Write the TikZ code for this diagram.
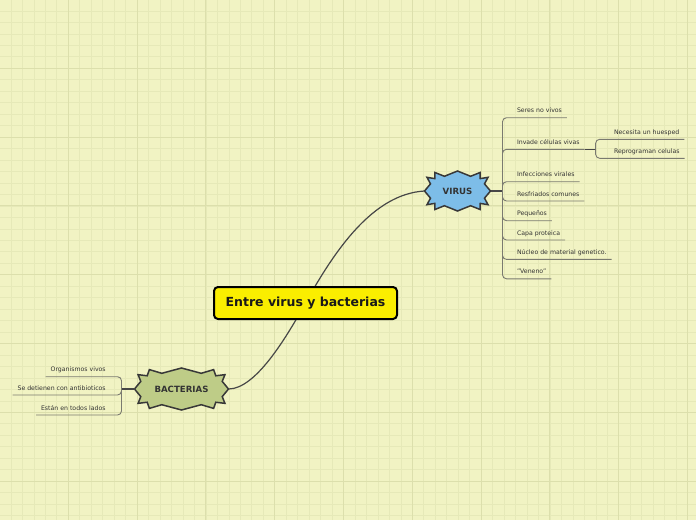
\documentclass[tikz,border=0pt]{standalone}
\usepackage{fontspec}
\setmainfont{DejaVu Sans}

\definecolor{paper}{HTML}{F1F3C3}
\definecolor{gridminor}{HTML}{E6E9B8}
\definecolor{gridmajor}{HTML}{DCDFAC}
\definecolor{topicyellow}{HTML}{FAEE00}
\definecolor{virusblue}{HTML}{7DBDE8}
\definecolor{bactgreen}{HTML}{BECC87}
\definecolor{inkgray}{HTML}{333333}
\definecolor{linegray}{HTML}{7A7A70}

\pgfdeclarelayer{bg}
\pgfsetlayers{bg,main}

\tikzset{
  topic/.style={draw=black, line width=2, fill=topicyellow, rounded corners=4,
    minimum width=183, minimum height=32, inner sep=0,
    font=\fontsize{12.5}{14}\selectfont\bfseries, text=black!90},
  burstnode/.style={minimum width=#1, minimum height=40, inner sep=0, outer sep=0,
    font=\fontsize{8.6}{10}\selectfont\bfseries, text=inkgray},
  leaf/.style={inner xsep=5, inner ysep=3.6, outer sep=0, text height=4.6, text depth=1.4,
    font=\fontsize{6.2}{7}\selectfont, text=inkgray},
  branch/.style={draw=linegray, line width=0.9, rounded corners=4},
  stem/.style={draw=black!72, line width=1.2},
  burstline/.style={draw=black!78, line width=1.5, line join=miter},
  minorgrid/.style={draw=gridminor, line width=0.8},
  majorgrid/.style={draw=gridmajor, line width=1.1},
}

% zigzag outline round a node: node, half width, half height, last index, fill
\newcommand\burstshape[5]{%
  \begin{pgfonlayer}{bg}
    \draw[burstline, fill=#5, shift={(#1.center)}]
      plot[samples at={0,...,#4}, variable=\k]
      ({(#2-5.5*mod(\k,2))*sign(cos(\k*360/(#4+1)))*pow(abs(cos(\k*360/(#4+1)))+0.0001,0.55)},
       {(#3-5*mod(\k,2))*sign(sin(\k*360/(#4+1)))*pow(abs(sin(\k*360/(#4+1)))+0.0001,0.55)}) -- cycle;
  \end{pgfonlayer}}

\begin{document}
\begin{tikzpicture}[x=1pt, y=-1pt]
  \useasboundingbox (0,0) rectangle (696,520);

  % paper and grid
  \begin{pgfonlayer}{bg}
    \fill[paper] (0,0) rectangle (696,520);
    \foreach \i in {1,...,60} \draw[minorgrid] ({11.47*\i-0.5},0) -- ({11.47*\i-0.5},520);
    \foreach \i in {1,...,45} \draw[minorgrid] (0,{11.47*\i-0.5}) -- (696,{11.47*\i-0.5});
    \foreach \i in {1,...,10} \draw[majorgrid] ({68.8*\i-0.5},0) -- ({68.8*\i-0.5},520);
    \foreach \i in {1,...,7} \draw[majorgrid] (0,{68.8*\i-0.5}) -- (696,{68.8*\i-0.5});
  \end{pgfonlayer}

  % main topic and the two bursts
  \node[topic] (topic) at (305.5,303) {Entre virus y bacterias};
  \node[burstnode=66] (virus) at (457.5,191) {VIRUS};
  \node[burstnode=94] (bact) at (181.5,389) {BACTERIAS};
  \burstshape{virus}{33}{20}{23}{virusblue}
  \burstshape{bact}{47}{21}{23}{bactgreen}

  \begin{pgfonlayer}{bg}
    \draw[stem] (topic.center) .. controls (335,250) and (373,194) .. (virus.west);
    \draw[stem] (topic.center) .. controls (285,340) and (255,389) .. (bact.east);
  \end{pgfonlayer}

  % virus side
  \node[leaf, anchor=south west] (seres)  at (512,117.7) {Seres no vivos};
  \node[leaf, anchor=south west] (invade) at (512,149.3) {Invade células vivas};
  \node[leaf, anchor=south west] (infec)  at (512,181.7) {Infecciones virales};
  \node[leaf, anchor=south west] (resfri) at (512,201)   {Resfriados comunes};
  \node[leaf, anchor=south west] (peque)  at (512,220.7) {Pequeños};
  \node[leaf, anchor=south west] (capa)   at (512,240)   {Capa proteica};
  \node[leaf, anchor=south west] (nucleo) at (512,259.4) {Núcleo de material genetico.};
  \node[leaf, anchor=south west] (veneno) at (512,278.8) {"Veneno"};
  \node[leaf, anchor=south west] (necesita) at (609,139.3) {Necesita un huesped};
  \node[leaf, anchor=south west] (reprog)   at (609,158.3) {Reprograman celulas};

  \draw[stem] (virus.east) -- ++(12,0) coordinate (vbr);
  \foreach \n in {seres,invade,infec,resfri,peque,capa,nucleo,veneno}
    \draw[branch] (vbr) |- (\n.south west) -- (\n.south east);
  \draw[stem] (invade.south east) -- ++(11,0) coordinate (ibr);
  \foreach \n in {necesita,reprog}
    \draw[branch] (ibr) |- (\n.south west) -- (\n.south east);

  % bacteria side
  \node[leaf, anchor=south east] (organ) at (110.7,376.7) {Organismos vivos};
  \node[leaf, anchor=south east] (antib) at (110.7,395)   {Se detienen con antibioticos};
  \node[leaf, anchor=south east] (todos) at (110.7,415)   {Están en todos lados};

  \draw[stem] (bact.west) -- ++(-13,0) coordinate (bbr);
  \foreach \n in {organ,antib,todos}
    \draw[branch] (bbr) |- (\n.south east) -- (\n.south west);
\end{tikzpicture}
\end{document}
